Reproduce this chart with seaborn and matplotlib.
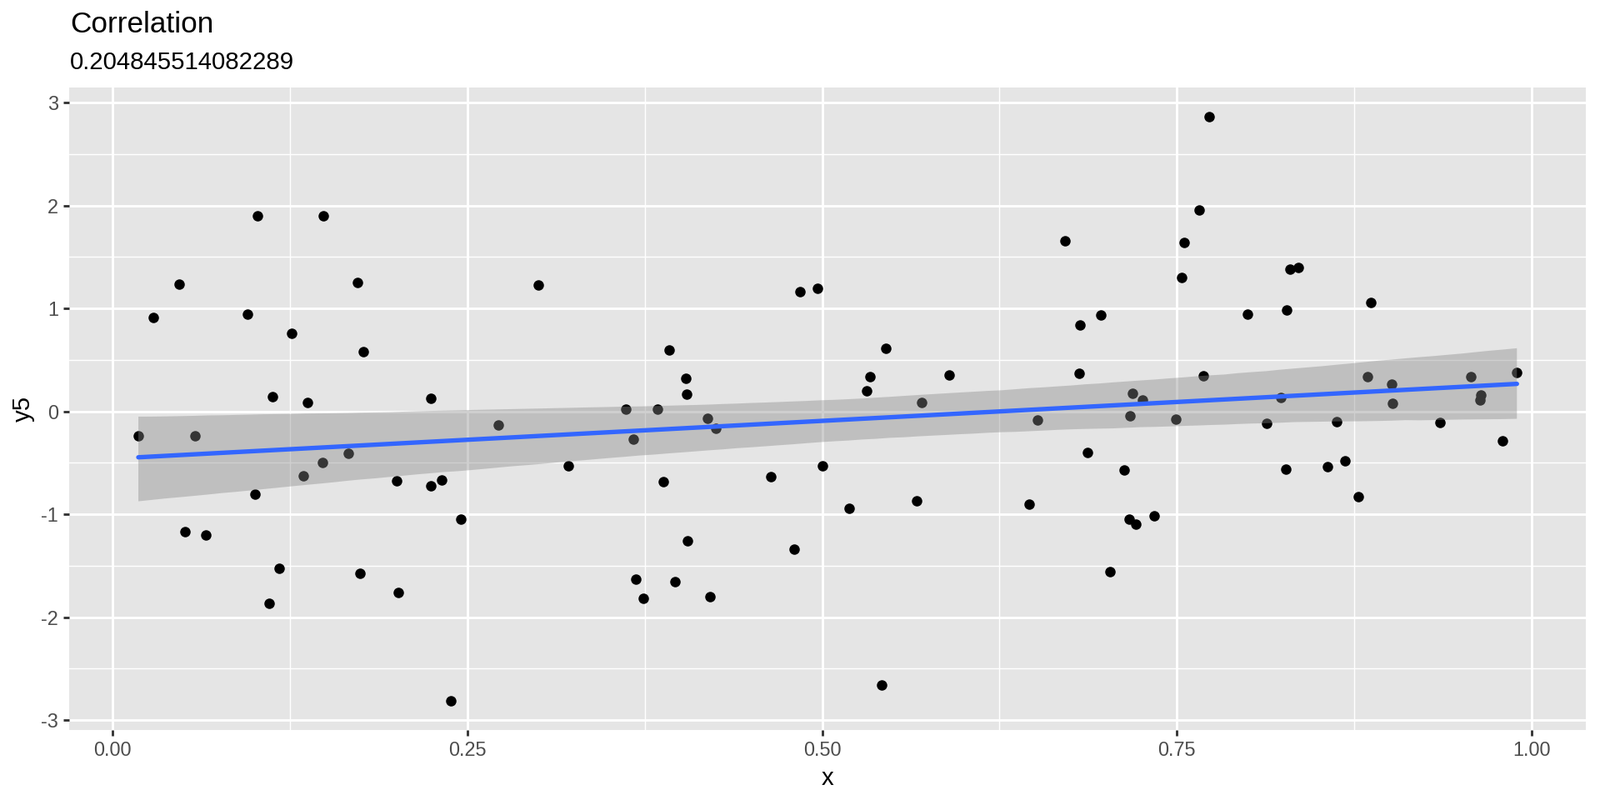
import numpy as np
import pandas as pd
import matplotlib
matplotlib.use("Agg")
import matplotlib.pyplot as plt
import seaborn as sns
from matplotlib.ticker import FixedLocator

# ---- data ----
x = [0.102, 0.1487, 0.0469, 0.0285, 0.095, 0.1265, 0.1126, 0.1374, 0.0182, 0.0582,
     0.1478, 0.1347, 0.1005, 0.0508, 0.0655, 0.1177, 0.1103,
     0.1728, 0.177, 0.2244, 0.1663, 0.2001, 0.2242, 0.2322, 0.2453, 0.1745, 0.2013,
     0.2384, 0.300, 0.2721, 0.3211,
     0.3618, 0.3667, 0.3839, 0.3923, 0.4042, 0.4048, 0.4193, 0.4251, 0.3882, 0.4050,
     0.369, 0.3741, 0.3966, 0.4212, 0.4847, 0.4970, 0.464, 0.4804, 0.500, 0.5193,
     0.5313, 0.5338,
     0.5451, 0.5422, 0.5702, 0.5667, 0.5895, 0.646, 0.6519, 0.6712, 0.6818, 0.6962,
     0.681, 0.687, 0.719, 0.7168, 0.7131, 0.7031, 0.7166, 0.7209,
     0.7256, 0.7342, 0.7492, 0.7729, 0.7658, 0.7553, 0.7531, 0.7684, 0.7998, 0.8131,
     0.8231, 0.8274, 0.830, 0.8358, 0.827, 0.8559, 0.8628, 0.8685, 0.8776, 0.8843,
     0.8868, 0.9013, 0.9019,
     0.9353, 0.9574, 0.964, 0.9637, 0.9793, 0.9896]
y5 = [1.90, 1.897, 1.233, 0.915, 0.944, 0.759, 0.144, 0.087, -0.239, -0.239,
      -0.495, -0.627, -0.808, -1.171, -1.200, -1.522, -1.868,
      1.254, 0.581, 0.128, -0.408, -0.676, -0.722, -0.664, -1.047, -1.575, -1.757,
      -2.812, 1.229, -0.136, -0.528,
      0.025, -0.268, 0.025, 0.594, 0.322, 0.165, -0.066, -0.165, -0.680, -1.258,
      -1.629, -1.814, -1.658, -1.802, 1.163, 1.196, -0.631, -1.336, -0.528, -0.944,
      0.202, 0.334,
      0.614, -2.660, 0.082, -0.870, 0.351, -0.903, -0.082, 1.654, 0.841, 0.936,
      0.371, -0.404, 0.173, -0.045, -0.569, -1.559, -1.047, -1.097,
      0.111, -1.019, -0.074, 2.862, 1.955, 1.637, 1.299, 0.346, 0.940, -0.120,
      0.132, 0.981, 1.377, 1.394, -0.561, -0.536, -0.103, -0.478, -0.829, 0.338,
      1.060, 0.264, 0.074,
      -0.111, 0.334, 0.157, 0.111, -0.289, 0.375]

title = "Correlation"
subtitle = "0.204845514082289"
x_ticks = [0.00, 0.25, 0.50, 0.75, 1.00]
x_tick_labels = ["0.00", "0.25", "0.50", "0.75", "1.00"]
y_ticks = [-3, -2, -1, 0, 1, 2, 3]
y_tick_labels = ["-3", "-2", "-1", "0", "1", "2", "3"]

df = pd.DataFrame({"x": x, "y5": y5})

sns.set_theme(style="white")
plt.rcParams["font.family"] = ["Liberation Sans", "DejaVu Sans"]
plt.rcParams["axes.unicode_minus"] = False

fig = plt.figure(figsize=(10, 5), dpi=192)
ax = fig.add_axes([83.3 / 1920, 1 - 876 / 960, (1903 - 83.3) / 1920, (876 - 105) / 960])
ax.set_facecolor("#E5E5E5")

sns.scatterplot(data=df, x="x", y="y5", color="black", s=22, linewidth=0, ax=ax, zorder=2)
n_before = len(ax.collections)
sns.regplot(data=df, x="x", y="y5", scatter=False, ci=95, seed=7, n_boot=2000,
            color="#3366FF", line_kws=dict(lw=2.0, zorder=4), ax=ax)
for coll in ax.collections[n_before:]:
    coll.set_facecolor("#888888")
    coll.set_alpha(0.4)
    coll.set_edgecolor("none")
    coll.set_zorder(3)

# limits with ggplot's 5% expansion
xr = max(x) - min(x)
yr = max(y5) - min(y5)
ax.set_xlim(min(x) - 0.05 * xr, max(x) + 0.05 * xr)
ax.set_ylim(min(y5) - 0.05 * yr, max(y5) + 0.05 * yr)

ax.xaxis.set_major_locator(FixedLocator(x_ticks))
ax.set_xticklabels(x_tick_labels)
ax.yaxis.set_major_locator(FixedLocator(y_ticks))
ax.set_yticklabels(y_tick_labels)
ax.xaxis.set_minor_locator(FixedLocator([0.125, 0.375, 0.625, 0.875]))
ax.yaxis.set_minor_locator(FixedLocator([-2.5, -1.5, -0.5, 0.5, 1.5, 2.5]))

ax.set_axisbelow(True)
ax.grid(which="major", color="white", lw=1.07)
ax.grid(which="minor", color="white", lw=0.53)
for s in ax.spines.values():
    s.set_visible(False)

ax.tick_params(which="major", length=2.75, width=1.07, color="#333333",
               labelsize=8.8, labelcolor="#4D4D4D", pad=2.2,
               bottom=True, left=True)
ax.tick_params(which="minor", length=0)

ax.set_xlabel("x", fontsize=11, color="black", labelpad=2.75)
ax.set_ylabel("y5", fontsize=11, color="black", labelpad=2.75)

fig.text(84 / 1920, 1 - 39.3 / 960, title, fontsize=13.2, color="black",
         ha="left", va="baseline")
fig.text(84 / 1920, 1 - 82.7 / 960, subtitle, fontsize=11, color="black",
         ha="left", va="baseline")

fig.savefig("out.png", dpi=192, facecolor="white")
